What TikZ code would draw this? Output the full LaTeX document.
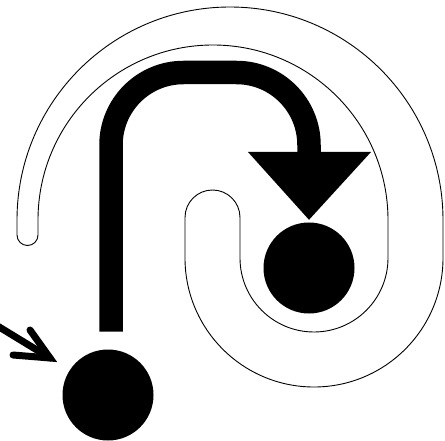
\documentclass[tikz,border=0pt]{standalone}
\usetikzlibrary{calc}
\begin{document}
\begin{tikzpicture}[x=1pt,y=1pt,
  dot/.style={circle,fill=black,draw=none,inner sep=0pt,minimum size=91pt},
  thinline/.style={draw=black,line width=0.9pt,line join=round},
  bigstroke/.style={draw=black,line width=23.5pt,line cap=butt},
  pointer/.style={draw=black,line width=7pt,line cap=round,miter limit=10}]
\useasboundingbox (0,0) rectangle (445,440);
\clip (0,0) rectangle (445,440);
% outline tube
\draw[thinline] (17,205) -- (17,220)
  arc[start angle=180,end angle=0,radius=213pt] -- (443,182)
  arc[start angle=0,end angle=-180,radius=129pt] -- (185,222.5)
  arc[start angle=180,end angle=0,radius=27.5pt] -- (240,182)
  arc[start angle=180,end angle=360,radius=74pt] -- (388,220)
  arc[start angle=0,end angle=180,radius=175pt] -- (38,205)
  arc[start angle=0,end angle=-180,radius=10.5pt] -- cycle;
% dots
\node[dot] (start) at (108,45) {};
\node[dot] (goal) at (309,172) {};
% big arrow
\coordinate (tailtop) at ($(start.north)+(3,17.8)$);
\coordinate (headbase) at (309,287);
\coordinate (headtip) at ($(goal.north)+(0,2.5)$);
\draw[bigstroke] (tailtop) -- (111,295)
  arc[start angle=180,end angle=90,radius=72.5pt] -- (236.5,367.5)
  arc[start angle=90,end angle=0,radius=72.5pt] -- (headbase);
\fill[black] (248,288) -- (371,288) -- (headtip) -- cycle;
% small pointer
\coordinate (ptip) at (50,82);
\draw[pointer] (-10,118.6) -- (ptip);
\draw[pointer,line join=miter] (13,85) -- (ptip) -- (30,110);
\end{tikzpicture}
\end{document}
